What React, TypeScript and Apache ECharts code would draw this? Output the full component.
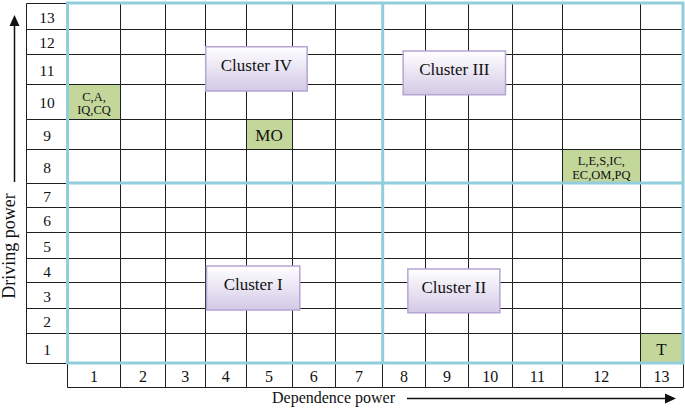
import React, { useEffect, useRef } from "react";
import * as echarts from "echarts";

// ---- data ----
const xLabels = ["1", "2", "3", "4", "5", "6", "7", "8", "9", "10", "11", "12", "13"];
const yLabels = ["1", "2", "3", "4", "5", "6", "7", "8", "9", "10", "11", "12", "13"];
const cellX = [1, 5, 12, 13];
const cellY = [10, 9, 8, 1];
const cellText = ["C,A,\nIQ,CQ", "MO", "L,E,S,IC,\nEC,OM,PQ", "T"];
const clusterNames = ["Cluster I", "Cluster II", "Cluster III", "Cluster IV"];
const xTitle = "Dependence power";
const yTitle = "Driving power";

// ---- layout (grid units, not data) ----
const COL_WIDTHS = [53, 44.8, 40, 40.7, 46, 43.3, 47.4, 42.6, 43.4, 43.3, 50.7, 77.3, 43];
const ROW_HEIGHTS = [30, 25, 26, 24, 26, 25, 24, 34, 30, 35, 30, 25, 26];
const SPLIT_COL = 7;
const SPLIT_ROW = 7;
// [col0, col1, row0, row1] in fractional cell units
const CLUSTER_BOXES = [
  [3.03, 5.18, 1.92, 3.67],
  [7.59, 9.72, 1.81, 3.54],
  [7.48, 9.85, 9.69, 11.12],
  [3.01, 5.35, 9.8, 11.29],
];

const cum = (arr: number[]) => {
  const out = [0];
  arr.forEach((v) => out.push(out[out.length - 1] + v));
  return out;
};
const xEdge = cum(COL_WIDTHS);
const yEdge = cum(ROW_HEIGHTS);
const W = xEdge[xEdge.length - 1];
const H = yEdge[yEdge.length - 1];
const frac = (edges: number[], sizes: number[], v: number) => {
  const i = Math.min(Math.floor(v), sizes.length - 1);
  return edges[i] + (v - i) * sizes[i];
};
const xv = (c: number) => frac(xEdge, COL_WIDTHS, c);
const yv = (r: number) => frac(yEdge, ROW_HEIGHTS, r);
const snap = (v: number) => Math.round(v - 0.5) + 0.5;

const FONT = '"Liberation Serif", "Times New Roman", serif';
const LINE = "#1e1e1e";
const BLUE = "#92cddc";
const GREEN = "#c4d79b";

const txt = (text: string, x: number, y: number, size: number, lineHeight?: number) => ({
  type: "text",
  style: {
    text,
    x,
    y,
    fill: "#111",
    font: `${size}px ${FONT}`,
    fontSize: size,
    fontFamily: FONT,
    align: "center",
    verticalAlign: "middle",
    textAlign: "center",
    textVerticalAlign: "middle",
    lineHeight: lineHeight || size * 1.1,
  },
});

const cellRect = (a: number[], b: number[], fill: string) => {
  const x0 = snap(a[0]);
  const x1 = snap(b[0]);
  const y0 = snap(b[1]);
  const y1 = snap(a[1]);
  return {
    type: "rect",
    shape: { x: x0, y: y0, width: x1 - x0, height: y1 - y0 },
    style: { fill, stroke: LINE, lineWidth: 1 },
  };
};

export default function App() {
  const ref = useRef<HTMLDivElement>(null);
  useEffect(() => {
    if (!ref.current) return;
    const chart = echarts.init(ref.current, null, { renderer: "svg" });
    const allCells: number[][] = [];
    for (let c = 1; c <= xLabels.length; c++) for (let r = 1; r <= yLabels.length; r++) allCells.push([c, r]);

    const option: any = {
      animation: false,
      grid: { left: 67.5, top: 3, right: 2, bottom: 45 },
      xAxis: { type: "value", min: 0, max: W, show: false },
      yAxis: { type: "value", min: 0, max: H, show: false },
      series: [
        {
          type: "custom",
          z: 2,
          data: allCells,
          renderItem: (_p: any, api: any) => {
            const c = api.value(0);
            const r = api.value(1);
            const a = api.coord([xEdge[c - 1], yEdge[r - 1]]);
            const b = api.coord([xEdge[c], yEdge[r]]);
            return cellRect(a, b, "#fff");
          },
        },
        {
          type: "custom",
          z: 3,
          data: cellX.map((x, i) => [x, cellY[i]]),
          renderItem: (p: any, api: any) => {
            const c = api.value(0);
            const r = api.value(1);
            const a = api.coord([xEdge[c - 1], yEdge[r - 1]]);
            const b = api.coord([xEdge[c], yEdge[r]]);
            const t = cellText[p.dataIndex];
            const multi = t.indexOf("\n") >= 0;
            return {
              type: "group",
              children: [
                cellRect(a, b, GREEN),
                txt(t, (a[0] + b[0]) / 2, (a[1] + b[1]) / 2 + (multi ? 2 : 1), multi ? 12.5 : 17, multi ? 13.5 : undefined),
              ],
            };
          },
        },
        {
          // x label boxes
          type: "custom",
          z: 2,
          clip: false,
          data: xLabels.map((_l, i) => [i + 1, 0]),
          renderItem: (p: any, api: any) => {
            const c = api.value(0);
            const a = api.coord([xEdge[c - 1], 0]);
            const b = api.coord([xEdge[c], 0]);
            const a2 = [a[0], a[1] + 24.5];
            return {
              type: "group",
              children: [
                cellRect(a2, [b[0], a[1]], "#fff"),
                txt(xLabels[p.dataIndex], (a[0] + b[0]) / 2, a[1] + 13, 16),
              ],
            };
          },
        },
        {
          // y label boxes
          type: "custom",
          z: 2,
          clip: false,
          data: yLabels.map((_l, i) => [0, i + 1]),
          renderItem: (p: any, api: any) => {
            const r = api.value(1);
            const a = api.coord([0, yEdge[r - 1]]);
            const b = api.coord([0, yEdge[r]]);
            return {
              type: "group",
              children: [
                cellRect([a[0] - 41.5, a[1]], [a[0], b[1]], "#fff"),
                txt(yLabels[p.dataIndex], a[0] - 20.5, (a[1] + b[1]) / 2 + 1, 15.5),
              ],
            };
          },
        },
        {
          // quadrant lines
          type: "custom",
          z: 4,
          clip: false,
          data: [[0, 0]],
          renderItem: (_p: any, api: any) => {
            const o = api.coord([0, 0]);
            const e = api.coord([W, H]);
            const sx = api.coord([xEdge[SPLIT_COL], 0])[0];
            const sy = api.coord([0, yEdge[SPLIT_ROW]])[1];
            const st = { stroke: BLUE, lineWidth: 3, fill: "none" };
            return {
              type: "group",
              children: [
                { type: "rect", shape: { x: o[0], y: e[1], width: e[0] - o[0], height: o[1] - e[1] }, style: st },
                { type: "line", shape: { x1: sx, y1: e[1], x2: sx, y2: o[1] }, style: st },
                { type: "line", shape: { x1: o[0], y1: sy, x2: e[0], y2: sy }, style: st },
              ],
            };
          },
        },
        {
          // clusters
          type: "custom",
          z: 5,
          data: clusterNames.map((_n, i) => [i, 0]),
          renderItem: (p: any, api: any) => {
            const bx = CLUSTER_BOXES[p.dataIndex];
            const a = api.coord([xv(bx[0]), yv(bx[2])]);
            const b = api.coord([xv(bx[1]), yv(bx[3])]);
            return {
              type: "group",
              children: [
                {
                  type: "rect",
                  shape: { x: a[0], y: b[1], width: b[0] - a[0], height: a[1] - b[1] },
                  style: {
                    fill: new echarts.graphic.LinearGradient(0, 0, 0, 1, [
                      { offset: 0, color: "#ffffff" },
                      { offset: 1, color: "#d3c9e6" },
                    ]),
                    stroke: "#b5a5d2",
                    lineWidth: 1.5,
                  },
                },
                txt(clusterNames[p.dataIndex], (a[0] + b[0]) / 2, (a[1] + b[1]) / 2 - 3, 17),
              ],
            };
          },
        },
      ],
      graphic: [
        { type: "line", shape: { x1: 14.5, y1: 182, x2: 14.5, y2: 25 }, style: { stroke: "#111", lineWidth: 1.5 } },
        { type: "polygon", shape: { points: [[14.5, 15], [9.5, 26], [19.5, 26]] }, style: { fill: "#111" } },
        { type: "line", shape: { x1: 407, y1: 398.5, x2: 666, y2: 398.5 }, style: { stroke: "#111", lineWidth: 1.5 } },
        { type: "polygon", shape: { points: [[676, 398.5], [665, 393.5], [665, 403.5]] }, style: { fill: "#111" } },
        {
          type: "text",
          x: 333.5,
          y: 397,
          style: { text: xTitle, font: `16px ${FONT}`, fill: "#111", align: "center", verticalAlign: "middle" },
        },
        {
          type: "text",
          x: 9,
          y: 246,
          rotation: Math.PI / 2,
          style: { text: yTitle, font: `18px ${FONT}`, fill: "#111", align: "center", verticalAlign: "middle" },
        },
      ],
    };
    chart.setOption(option);
    return () => chart.dispose();
  }, []);
  return <div ref={ref} style={{ position: "absolute", left: 0, top: 0, width: 685, height: 408 }} />;
}
